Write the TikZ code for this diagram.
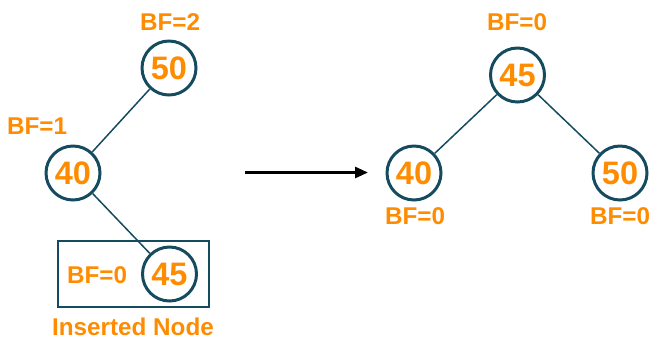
\documentclass[tikz,border=0pt]{standalone}
\usepackage{fontspec}
\setmainfont{Liberation Sans}
\usetikzlibrary{arrows.meta, positioning}
\definecolor{treeteal}{RGB}{20, 75, 95}
\definecolor{bforange}{RGB}{255, 140, 0}

\tikzset{
  treenode/.style={draw=treeteal, circle, line width=1.7pt, minimum size=1.08cm, inner sep=0pt, text=bforange, font=\fontsize{18.5}{18.5}\selectfont\bfseries},
  bflabel/.style={text=bforange, font=\fontsize{13.8}{14}\selectfont\bfseries, inner sep=1pt},
  treeedge/.style={treeteal, line width=0.85pt}
}

\begin{document}
\begin{tikzpicture}
\useasboundingbox (0,0) rectangle (13.02,6.8);
% before rotation
\node[treenode] (n50) at (3.38,5.44) {50};
\node[treenode] (n40) at (1.46,3.34) {40};
\node[treenode] (n45) at (3.39,1.32) {45};
\draw[treeedge] (n50) -- (n40);
\draw[treeedge] (n40) -- (n45);
\node[bflabel] (bf50) at (3.4,6.36) {BF=2};
\node[bflabel] (bf40) at (0.74,4.28) {BF=1};
\node[bflabel] (bf45) at (1.94,1.30) {BF=0};
\node[draw=treeteal, line width=0.8pt, minimum width=3.02cm, minimum height=1.32cm] (newbox) at (2.67,1.32) {};
\node[bflabel] (newlabel) at (2.66,0.27) {Inserted Node};

% rotation arrow
\coordinate (arrowstart) at (4.9,3.35);
\coordinate (arrowend) at (7.36,3.35);
\draw[-{Triangle[length=2.6mm, width=2.2mm]}, line width=1.6pt] (arrowstart) -- (arrowend);

% after rotation
\node[treenode] (r45) at (10.35,5.30) {45};
\node[treenode] (r40) at (8.28,3.34) {40};
\node[treenode] (r50) at (12.4,3.34) {50};
\draw[treeedge] (r45) -- (r40);
\draw[treeedge] (r45) -- (r50);
\node[bflabel] (rbf45) at (10.34,6.36) {BF=0};
\node[bflabel] (rbf40) at (8.3,2.48) {BF=0};
\node[bflabel] (rbf50) at (12.4,2.48) {BF=0};
\end{tikzpicture}
\end{document}
